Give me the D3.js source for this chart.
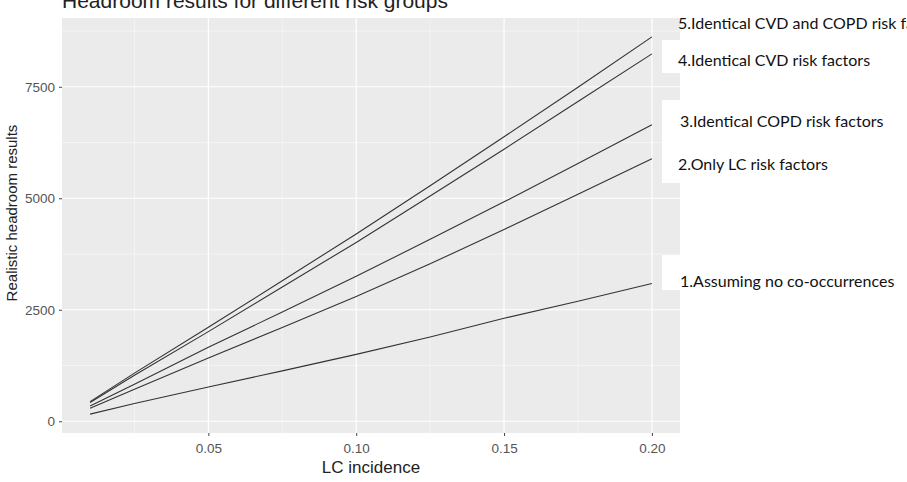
<!DOCTYPE html>
<html>
<head>
<meta charset="utf-8">
<script src="https://cdn.jsdelivr.net/npm/d3@7"></script>
<style>
  body { margin: 0; background: #fff; }
  svg { display: block; }
</style>
</head>
<body>
<script>
// data
var incidence = [0.01, 0.025, 0.05, 0.075, 0.10, 0.125, 0.15, 0.175, 0.20];
var noCooccur = [160, 400, 770, 1130, 1500, 1890, 2310, 2690, 3089];
var onlyLC = [290, 720, 1420, 2100, 2800, 3530, 4300, 5090, 5888];
var identCOPD = [340, 830, 1660, 2450, 3250, 4080, 4920, 5780, 6649];
var identCVD = [420, 1030, 2010, 3010, 4010, 5050, 6100, 7170, 8238];
var identBoth = [440, 1080, 2110, 3150, 4200, 5280, 6380, 7490, 8619];
var seriesLabels = ["1.Assuming no co-occurrences", "2.Only LC risk factors",
                    "3.Identical COPD risk factors", "4.Identical CVD risk factors",
                    "5.Identical CVD and COPD risk factors"];
var xTicks = [0.05, 0.10, 0.15, 0.20];
var yTicks = [0, 2500, 5000, 7500];

var series = [noCooccur, onlyLC, identCOPD, identCVD, identBoth];

function GgChart() {
    this.width = 907;
    this.height = 482;
    this.panel = { left: 62, right: 680, top: 18, bottom: 433 };
    this.render();
}

GgChart.prototype.expand = function(extent) {
    // ggplot style 5% expansion
    var pad = (extent[1] - extent[0]) * 0.05;
    return [extent[0] - pad, extent[1] + pad];
};

GgChart.prototype.render = function() {
    var p = this.panel;
    var svg = d3.select("body").append("svg")
        .attr("width", this.width)
        .attr("height", this.height);

    var allY = d3.merge(series);
    var x = d3.scaleLinear().domain(this.expand(d3.extent(incidence))).range([p.left, p.right]);
    var y = d3.scaleLinear().domain(this.expand(d3.extent(allY))).range([p.bottom, p.top]);

    svg.append("rect")
        .attr("x", p.left).attr("y", p.top)
        .attr("width", p.right - p.left).attr("height", p.bottom - p.top)
        .attr("fill", "#ebebeb");

    // minor grid
    var xMinor = [0.025, 0.075, 0.125, 0.175];
    var yMinor = [1250, 3750, 6250, 8750];
    svg.selectAll(".xminor").data(xMinor).enter().append("line")
        .attr("x1", x).attr("x2", x).attr("y1", p.top).attr("y2", p.bottom)
        .attr("stroke", "#fafafa").attr("stroke-width", 0.6);
    svg.selectAll(".yminor").data(yMinor).enter().append("line")
        .attr("y1", y).attr("y2", y).attr("x1", p.left).attr("x2", p.right)
        .attr("stroke", "#fafafa").attr("stroke-width", 0.6);
    // major grid
    svg.selectAll(".xmajor").data(xTicks).enter().append("line")
        .attr("x1", x).attr("x2", x).attr("y1", p.top).attr("y2", p.bottom)
        .attr("stroke", "#fff").attr("stroke-width", 1.2);
    svg.selectAll(".ymajor").data(yTicks).enter().append("line")
        .attr("y1", y).attr("y2", y).attr("x1", p.left).attr("x2", p.right)
        .attr("stroke", "#fff").attr("stroke-width", 1.2);

    var line = d3.line()
        .x(function(d, i) { return x(incidence[i]); })
        .y(function(d) { return y(d); });

    svg.selectAll(".series").data(series).enter().append("path")
        .attr("d", line)
        .attr("fill", "none")
        .attr("stroke", "#333")
        .attr("stroke-width", 1.1);

    // axes
    var xAxis = d3.axisBottom(x).tickValues(xTicks).tickFormat(d3.format(".2f")).tickSize(3).tickPadding(7);
    var yAxis = d3.axisLeft(y).tickValues(yTicks).tickFormat(d3.format("d")).tickSize(3).tickPadding(4);

    var gx = svg.append("g").attr("transform", "translate(0," + p.bottom + ")").call(xAxis);
    var gy = svg.append("g").attr("transform", "translate(" + p.left + ",0)").call(yAxis);
    [gx, gy].forEach(function(g) {
        g.select(".domain").remove();
        g.selectAll(".tick line").attr("stroke", "#444");
        g.selectAll(".tick text")
            .attr("fill", "#555")
            .style("font-family", "Liberation Sans, Arial, sans-serif")
            .style("font-size", "13.5px");
    });

    svg.append("text")
        .attr("x", (p.left + p.right) / 2).attr("y", 473)
        .attr("text-anchor", "middle")
        .style("font-family", "Liberation Sans, Arial, sans-serif")
        .style("font-size", "17px").attr("fill", "#222")
        .text("LC incidence");

    svg.append("text")
        .attr("transform", "translate(17," + 213 + ") rotate(-90)")
        .attr("text-anchor", "middle")
        .style("font-family", "Liberation Sans, Arial, sans-serif")
        .style("font-size", "15px").attr("fill", "#222")
        .text("Realistic headroom results");

    svg.append("text")
        .attr("x", 62).attr("y", 8)
        .style("font-family", "Liberation Sans, Arial, sans-serif")
        .style("font-size", "21px").attr("fill", "#222")
        .text("Headroom results for different risk groups");

    // pasted label boxes
    var boxes = [
        { y0: 255, y1: 290, tx: 680, ty: 287 },
        { y0: 143, y1: 183, tx: 678, ty: 170 },
        { y0: 100, y1: 143, tx: 680, ty: 127 },
        { y0: 40, y1: 73, tx: 678, ty: 66 },
        { y0: 0, y1: 38, tx: 678, ty: 29 }
    ];
    var lab = svg.selectAll(".lab").data(seriesLabels).enter().append("g");
    lab.append("rect")
        .attr("x", function(d, i) { return i == 4 ? 680 : 662; })
        .attr("y", function(d, i) { return boxes[i].y0; })
        .attr("width", 260)
        .attr("height", function(d, i) { return boxes[i].y1 - boxes[i].y0; })
        .attr("fill", "#fff");
    lab.append("text")
        .attr("x", function(d, i) { return boxes[i].tx; })
        .attr("y", function(d, i) { return boxes[i].ty; })
        .style("font-family", "Lato, Carlito, sans-serif")
        .style("font-size", "16px").attr("fill", "#111")
        .text(function(d) { return d; });
};

new GgChart();
</script>
</body>
</html>
